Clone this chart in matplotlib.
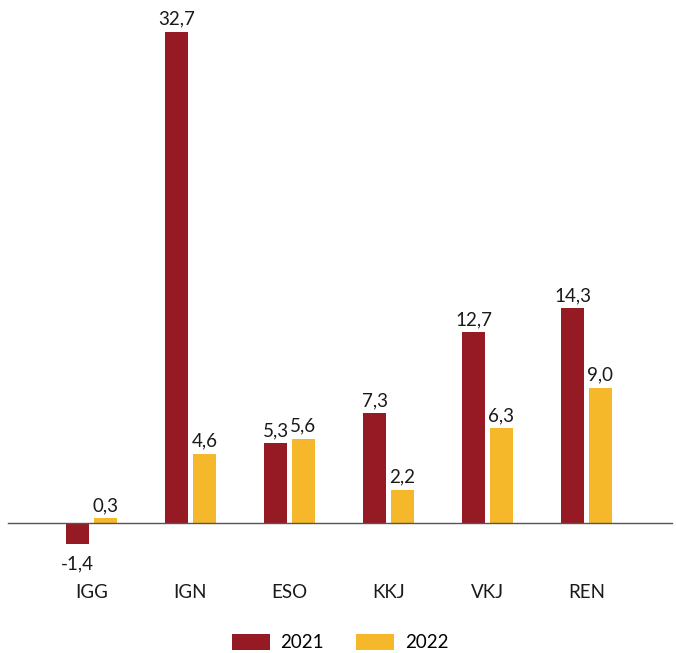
import matplotlib
matplotlib.use("Agg")
import matplotlib.pyplot as plt
import numpy as np

plt.rcParams["font.family"] = ["Lato", "DejaVu Sans"]

categories = ["IGG", "IGN", "ESO", "KKJ", "VKJ", "REN"]
values_2021 = [-1.4, 32.7, 5.3, 7.3, 12.7, 14.3]
values_2022 = [0.3, 4.6, 5.6, 2.2, 6.3, 9.0]
years = ["2021", "2022"]

red = "#961a24"
yellow = "#f5b82b"
fs = 13.5

fig = plt.figure(figsize=(6.76, 6.53), dpi=100)
ax = fig.add_axes([0, 100 / 653, 1, 543 / 653])

x = np.arange(len(categories))
w = 0.232
off = 0.141
b1 = ax.bar(x - off, values_2021, w, color=red, label=years[0])
b2 = ax.bar(x + off, values_2022, w, color=yellow, label=years[1])

# value labels above (or below, for negatives) each bar
for bars, vals in ((b1, values_2021), (b2, values_2022)):
    for rect, v in zip(bars, vals):
        ax.annotate(f"{v:.1f}".replace(".", ","),
                    (rect.get_x() + rect.get_width() / 2, v),
                    xytext=(0, 3 if v >= 0 else -8), textcoords="offset points",
                    ha="center", va="bottom" if v >= 0 else "top",
                    fontsize=fs, color="#1a1a1a")

for i, c in enumerate(categories):
    ax.text(i, -4.6, c, ha="center", va="center", fontsize=fs, color="#1a1a1a")

ax.axhline(0, xmin=8 / 676, xmax=672 / 676, color="#555555", lw=1)
ax.set_xlim(-0.924, 5.904)
ax.set_ylim(-2.0, 34.16)
ax.axis("off")

fig.legend(loc="center", bbox_to_anchor=(0.503, 0.016), ncol=2, frameon=False,
           fontsize=fs, handlelength=2.05, handleheight=0.95, columnspacing=1.7,
           handletextpad=0.55)

fig.savefig("out.png", dpi=100)
